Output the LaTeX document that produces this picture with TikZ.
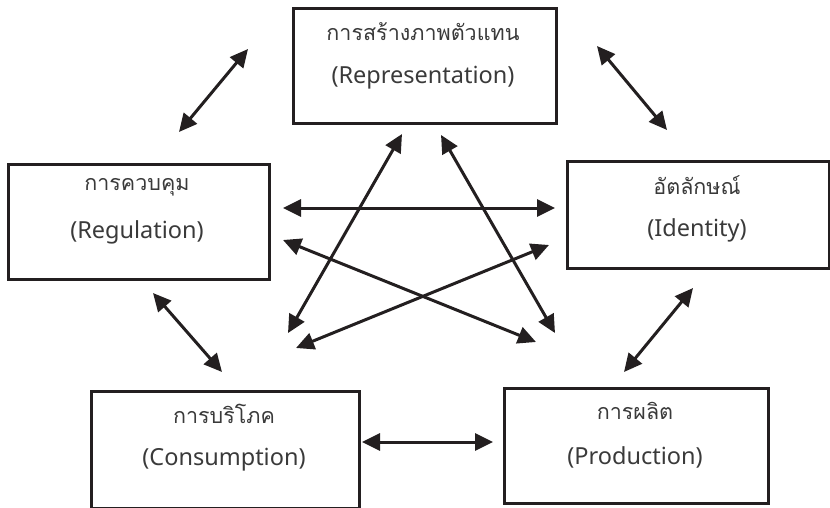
\documentclass[tikz,border=0pt]{standalone}
\usepackage{fontspec}
\setmainfont{Noto Sans}
\newfontfamily\thaifont[Script=Thai]{Loma}
\usetikzlibrary{arrows.meta}
\definecolor{ink}{HTML}{231F20}
\definecolor{txt}{HTML}{3A3A3A}
\tikzset{
  box/.style={draw=ink, line width=3pt, rectangle, inner sep=0pt, anchor=north west},
  thai/.style={font=\thaifont\fontsize{21.5}{25}\selectfont, text=txt, inner sep=0pt},
  eng/.style={font=\fontsize{23.5}{28}\selectfont, text=txt, inner sep=0pt},
  link/.style={draw=ink, line width=3pt, {Triangle[length=18pt,width=17pt]}-{Triangle[length=18pt,width=17pt]}}
}
\begin{document}
\begin{tikzpicture}[x=1pt,y=-1pt]
\useasboundingbox (0,0) rectangle (830,508);
% boxes
\node[box, minimum width=263pt, minimum height=115pt] (rep) at (292,7) {};
\node[box, minimum width=261pt, minimum height=115pt] (reg) at (7,163) {};
\node[box, minimum width=262pt, minimum height=107pt] (idn) at (566,160) {};
\node[box, minimum width=268pt, minimum height=117pt] (con) at (90,390) {};
\node[box, minimum width=264pt, minimum height=115pt] (pro) at (503,387) {};
% texts
\node[thai] (repT) at (423,32) {การสร้างภาพตัวแทน};
\node[eng]  (repE) at (423,78) {(Representation)};
\node[thai] (regT) at (137,187) {การควบคุม};
\node[eng]  (regE) at (137,232) {(Regulation)};
\node[thai] (idnT) at (697,185) {อัตลักษณ์};
\node[eng]  (idnE) at (697,230) {(Identity)};
\node[thai] (conT) at (224,414) {การบริโภค};
\node[eng]  (conE) at (224,460) {(Consumption)};
\node[thai] (proT) at (635,411) {การผลิต};
\node[eng]  (proE) at (635,457) {(Production)};
% connector end points
\coordinate (a1) at (248,49);  \coordinate (a2) at (179,132);
\coordinate (b1) at (597,46);  \coordinate (b2) at (667,130);
\coordinate (c1) at (283,208); \coordinate (c2) at (555,208);
\coordinate (d1) at (283,240); \coordinate (d2) at (536,342);
\coordinate (e1) at (549,245); \coordinate (e2) at (296,348);
\coordinate (f1) at (402,134); \coordinate (f2) at (288,333);
\coordinate (g1) at (441,135); \coordinate (g2) at (555,333);
\coordinate (h1) at (153,293); \coordinate (h2) at (222,372);
\coordinate (i1) at (693,288); \coordinate (i2) at (624,372);
\coordinate (j1) at (362,442); \coordinate (j2) at (493,442);
% connectors
\draw[link] (a1) -- (a2);
\draw[link] (b1) -- (b2);
\draw[link] (c1) -- (c2);
\draw[link] (d1) -- (d2);
\draw[link] (e1) -- (e2);
\draw[link] (f1) -- (f2);
\draw[link] (g1) -- (g2);
\draw[link] (h1) -- (h2);
\draw[link] (i1) -- (i2);
\draw[link] (j1) -- (j2);
\end{tikzpicture}
\end{document}
